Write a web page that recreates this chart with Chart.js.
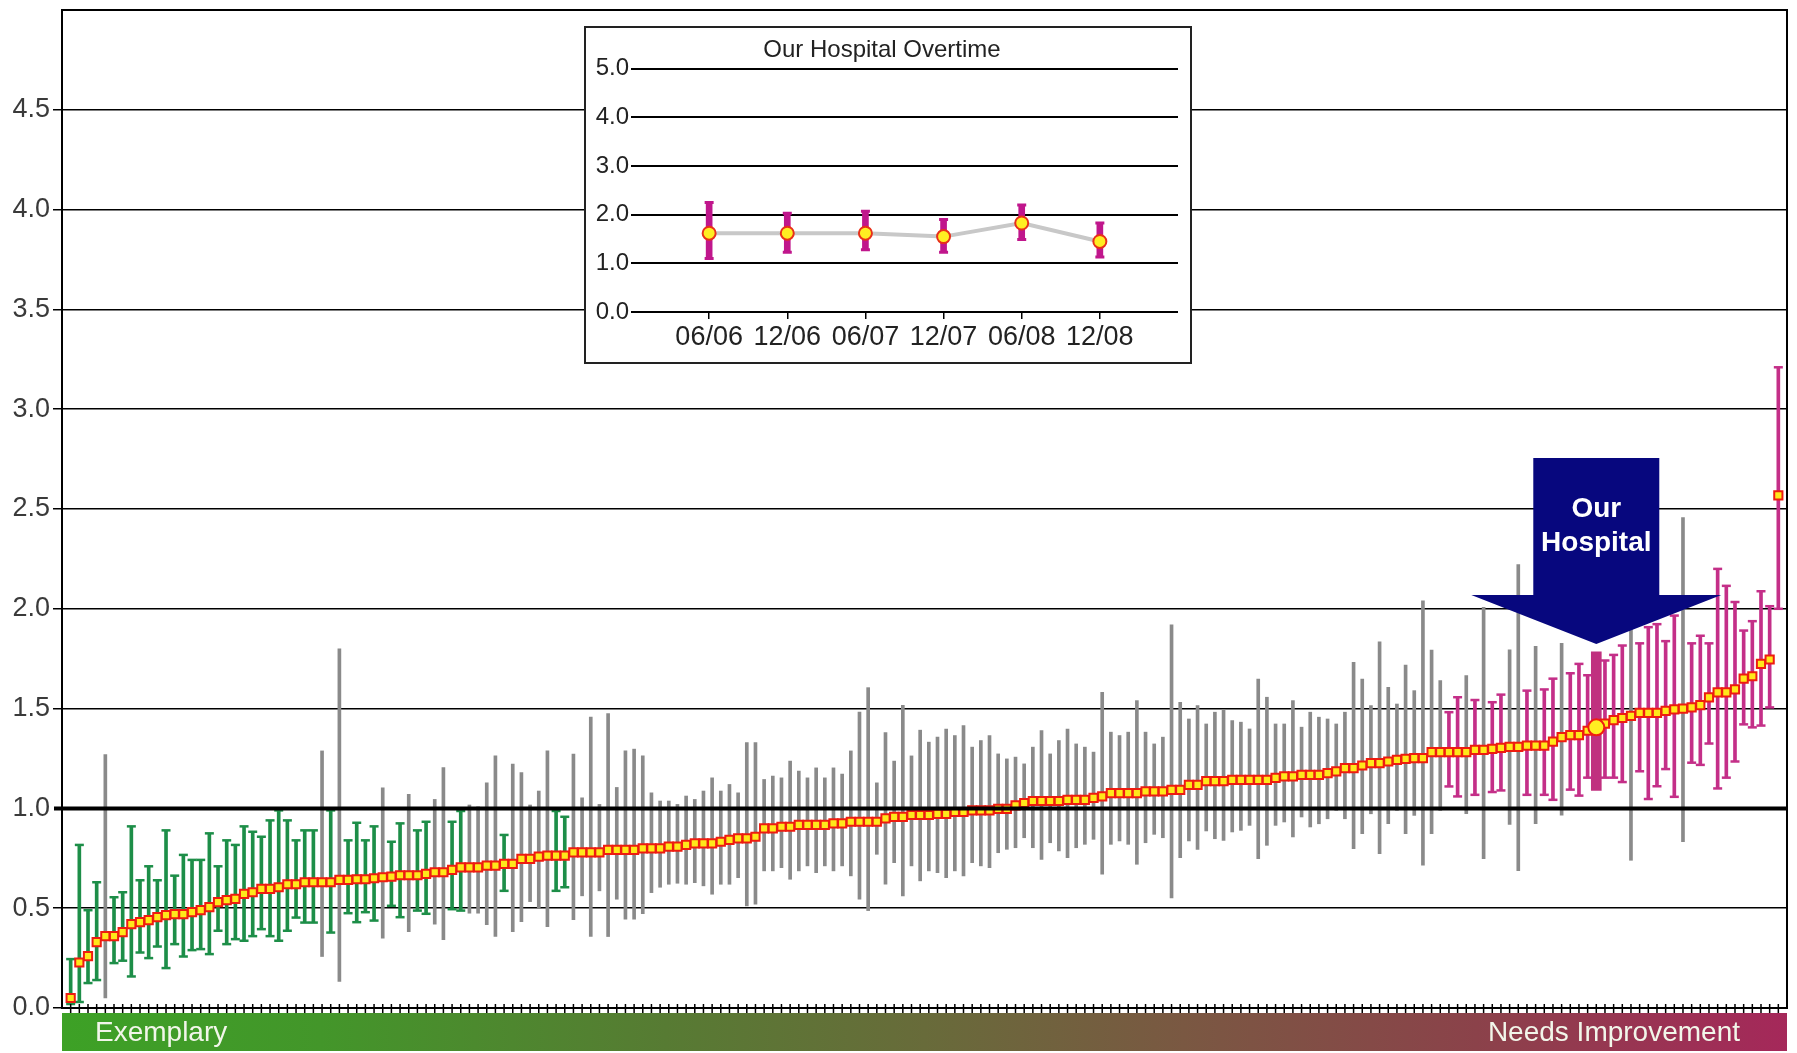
<!DOCTYPE html>
<html lang="en">
<head>
<meta charset="UTF-8">
<title>Hospital Comparison</title>
<style>
    html, body { margin: 0; padding: 0; background: #fff; }
    #wrap { position: relative; width: 1797px; height: 1053px; }
    #mainChart { position: absolute; left: 0; top: 0; }
    #inset {
        position: absolute; left: 584px; top: 26px;
        width: 608px; height: 338px;
        box-sizing: border-box; border: 2px solid #222; background: #fff;
    }
    #inset canvas { display: block; }
</style>
</head>
<body>
<div id="wrap">
    <canvas id="mainChart" width="1797" height="1053"></canvas>
    <div id="inset"><canvas id="insetChart" width="604" height="334"></canvas></div>
</div>

<script src="https://cdn.jsdelivr.net/npm/chart.js"></script>
<script>
    // Hospital rates (sorted), with lower / upper confidence limits
    const rates = [
        0.05, 0.228, 0.26, 0.33, 0.36, 0.36, 0.38, 0.42, 0.43, 0.44,
        0.455, 0.465, 0.47, 0.47, 0.48, 0.49, 0.505, 0.53, 0.54, 0.547,
        0.572, 0.58, 0.597, 0.597, 0.605, 0.62, 0.62, 0.63, 0.63, 0.63,
        0.63, 0.642, 0.642, 0.645, 0.645, 0.65, 0.655, 0.658, 0.665, 0.665,
        0.665, 0.672, 0.68, 0.68, 0.692, 0.705, 0.705, 0.705, 0.713, 0.713,
        0.722, 0.722, 0.747, 0.747, 0.758, 0.763, 0.763, 0.763, 0.78, 0.78,
        0.78, 0.78, 0.792, 0.792, 0.792, 0.792, 0.80, 0.80, 0.80, 0.808,
        0.808, 0.817, 0.825, 0.825, 0.825, 0.833, 0.842, 0.85, 0.85, 0.858,
        0.90, 0.90, 0.908, 0.908, 0.917, 0.917, 0.917, 0.917, 0.925, 0.925,
        0.933, 0.933, 0.933, 0.933, 0.95, 0.958, 0.958, 0.967, 0.967, 0.967,
        0.973, 0.973, 0.982, 0.982, 0.99, 0.99, 0.99, 0.998, 0.998, 1.015,
        1.027, 1.037, 1.037, 1.037, 1.037, 1.043, 1.043, 1.043, 1.053, 1.06,
        1.077, 1.077, 1.077, 1.077, 1.085, 1.085, 1.085, 1.093, 1.093, 1.118,
        1.118, 1.137, 1.137, 1.137, 1.143, 1.143, 1.143, 1.143, 1.143, 1.153,
        1.16, 1.16, 1.168, 1.168, 1.168, 1.177, 1.185, 1.202, 1.202, 1.215,
        1.227, 1.227, 1.235, 1.243, 1.248, 1.252, 1.252, 1.282, 1.282, 1.282,
        1.282, 1.282, 1.293, 1.293, 1.298, 1.303, 1.308, 1.308, 1.314, 1.314,
        1.314, 1.335, 1.357, 1.367, 1.367, 1.389, 1.406, 1.425, 1.442, 1.453,
        1.464, 1.479, 1.479, 1.479, 1.489, 1.496, 1.5, 1.506, 1.517, 1.556,
        1.581, 1.581, 1.596, 1.65, 1.662, 1.724, 1.746, 2.568
    ];
    const lowerCI = [
        0.02, 0.03, 0.125, 0.14, 0.05, 0.225, 0.237, 0.158, 0.278, 0.25,
        0.308, 0.20, 0.32, 0.258, 0.29, 0.295, 0.27, 0.387, 0.32, 0.345,
        0.337, 0.36, 0.395, 0.36, 0.337, 0.387, 0.453, 0.428, 0.428, 0.258,
        0.378, 0.133, 0.475, 0.43, 0.48, 0.438, 0.35, 0.512, 0.455, 0.383,
        0.488, 0.472, 0.42, 0.342, 0.495, 0.488, 0.475, 0.475, 0.417, 0.358,
        0.587, 0.383, 0.433, 0.533, 0.50, 0.408, 0.587, 0.605, 0.442, 0.562,
        0.358, 0.587, 0.358, 0.545, 0.445, 0.445, 0.472, 0.578, 0.605, 0.62,
        0.625, 0.62, 0.628, 0.612, 0.57, 0.62, 0.62, 0.653, 0.512, 0.52,
        0.687, 0.687, 0.703, 0.645, 0.687, 0.712, 0.678, 0.712, 0.687, 0.712,
        0.662, 0.545, 0.488, 0.77, 0.62, 0.728, 0.562, 0.712, 0.637, 0.687,
        0.678, 0.653, 0.687, 0.662, 0.728, 0.712, 0.703, 0.778, 0.795, 0.803,
        0.853, 0.803, 0.745, 0.828, 0.787, 0.753, 0.803, 0.82, 0.845, 0.67,
        0.82, 0.837, 0.82, 0.72, 0.828, 0.87, 0.853, 0.552, 0.753, 0.837,
        0.795, 0.887, 0.848, 0.84, 0.882, 0.89, 0.915, 0.748, 0.815, 0.915,
        0.932, 0.857, 0.957, 0.907, 0.923, 0.948, 0.99, 0.948, 0.798, 0.873,
        0.973, 0.773, 0.923, 0.99, 0.873, 0.965, 0.715, 0.873, 0.99, 1.11,
        1.06, 0.973, 1.068, 0.748, 1.082, 1.09, 0.92, 0.688, 1.068, 0.923,
        1.068, 1.043, 0.966, 1.094, 1.064, 1.154, 1.09, 1.154, 1.154, 1.132,
        0.74, 1.186, 1.047, 1.111, 1.197, 1.058, 0.833, 1.229, 1.218, 1.325,
        1.1, 1.154, 1.235, 1.421, 1.406, 1.415, 1.506, 2.0
    ];
    const upperCI = [
        0.245, 0.817, 0.49, 0.63, 1.27, 0.555, 0.58, 0.91, 0.64, 0.71,
        0.64, 0.89, 0.663, 0.767, 0.742, 0.742, 0.875, 0.71, 0.84, 0.817,
        0.91, 0.883, 0.858, 0.94, 0.99, 0.94, 0.84, 0.89, 0.89, 1.288,
        0.99, 1.80, 0.84, 0.928, 0.84, 0.91, 1.103, 0.833, 0.925, 1.07,
        0.89, 0.933, 1.045, 1.205, 0.933, 0.987, 1.017, 1.008, 1.128, 1.263,
        0.867, 1.222, 1.18, 1.017, 1.087, 1.288, 0.987, 0.958, 1.272, 1.053,
        1.458, 1.02, 1.475, 1.105, 1.288, 1.297, 1.263, 1.078, 1.037, 1.037,
        1.02, 1.062, 1.045, 1.087, 1.153, 1.087, 1.12, 1.078, 1.33, 1.33,
        1.145, 1.162, 1.153, 1.237, 1.187, 1.153, 1.203, 1.153, 1.203, 1.172,
        1.288, 1.483, 1.605, 1.128, 1.38, 1.237, 1.517, 1.263, 1.392, 1.332,
        1.357, 1.398, 1.365, 1.415, 1.307, 1.34, 1.365, 1.273, 1.248, 1.257,
        1.223, 1.307, 1.39, 1.273, 1.34, 1.398, 1.323, 1.307, 1.282, 1.582,
        1.382, 1.365, 1.382, 1.54, 1.382, 1.323, 1.357, 1.92, 1.532, 1.448,
        1.515, 1.423, 1.482, 1.495, 1.44, 1.432, 1.398, 1.648, 1.557, 1.423,
        1.423, 1.54, 1.407, 1.482, 1.457, 1.448, 1.423, 1.482, 1.732, 1.648,
        1.515, 1.835, 1.607, 1.523, 1.718, 1.59, 2.04, 1.793, 1.64, 1.482,
        1.557, 1.665, 1.543, 2.007, 1.532, 1.57, 1.795, 2.222, 1.59, 1.812,
        1.596, 1.65, 1.827, 1.677, 1.724, 1.667, 1.784, 1.741, 1.769, 1.816,
        1.94, 1.827, 1.908, 1.923, 1.838, 1.966, 2.457, 1.827, 1.865, 1.827,
        2.2, 2.115, 2.034, 1.891, 1.938, 2.088, 2.013, 3.21
    ];
    const OUR_HOSPITAL = 177;   // position of our hospital in the ranking

    // Our hospital over time (inset)
    const periods = ['06/06', '12/06', '06/07', '12/07', '06/08', '12/08'];
    const ourRates = [1.62, 1.62, 1.62, 1.55, 1.83, 1.45];
    const ourLower = [1.10, 1.23, 1.28, 1.23, 1.49, 1.13];
    const ourUpper = [2.25, 2.03, 2.07, 1.90, 2.20, 1.83];

    const FONT = "'Liberation Sans', Arial, sans-serif";
    const GREEN = '#1d8e48';
    const GRAY = '#8a8a8a';
    const MAGENTA = '#c42f88';
    const NAVY = '#07077e';

    const hospitalX = rates.map((r, i) => i + 1);
    const ciColor = (lo, hi) => hi < 1 ? GREEN : (lo > 1 ? MAGENTA : GRAY);

    const others = hospitalX.filter(x => x !== OUR_HOSPITAL);
    const ciBars = others.map(x => ({ x, y: [lowerCI[x - 1], upperCI[x - 1]] }));
    const capsOf = color => others
        .filter(x => ciColor(lowerCI[x - 1], upperCI[x - 1]) === color)
        .flatMap(x => [{ x, y: lowerCI[x - 1] }, { x, y: upperCI[x - 1] }]);
    const o = OUR_HOSPITAL - 1;

    // extra drawing: reference line, frame, tick marks, arrow, colour strip
    const decorPlugin = {
        id: 'decor',
        afterDatasetsDraw(chart) {
            const { ctx, chartArea: a, scales: { x, y } } = chart;
            ctx.save();
            // benchmark line at 1.0
            ctx.strokeStyle = '#000';
            ctx.lineWidth = 4;
            ctx.beginPath();
            ctx.moveTo(a.left - 8, y.getPixelForValue(1));
            ctx.lineTo(a.right, y.getPixelForValue(1));
            ctx.stroke();
            // frame
            ctx.lineWidth = 2;
            ctx.strokeRect(a.left, a.top, a.right - a.left, a.bottom - a.top);
            // hospital tick marks
            ctx.lineWidth = 1.5;
            ctx.beginPath();
            hospitalX.forEach(v => {
                const px = x.getPixelForValue(v);
                ctx.moveTo(px, a.bottom - 4);
                ctx.lineTo(px, a.bottom + 5);
            });
            ctx.stroke();

            // "Our Hospital" block arrow
            const tx = x.getPixelForValue(OUR_HOSPITAL);
            const ty = y.getPixelForValue(upperCI[o]) - 8;
            ctx.fillStyle = NAVY;
            ctx.beginPath();
            ctx.moveTo(tx, ty);
            ctx.lineTo(tx + 125, ty - 49);
            ctx.lineTo(tx + 63, ty - 49);
            ctx.lineTo(tx + 63, ty - 186);
            ctx.lineTo(tx - 63, ty - 186);
            ctx.lineTo(tx - 63, ty - 49);
            ctx.lineTo(tx - 125, ty - 49);
            ctx.closePath();
            ctx.fill();
            ctx.fillStyle = '#fff';
            ctx.font = 'bold 28px ' + FONT;
            ctx.textAlign = 'center';
            ctx.textBaseline = 'middle';
            ctx.fillText('Our', tx, ty - 135);
            ctx.fillText('Hospital', tx, ty - 101);
            ctx.restore();
        },
        afterDraw(chart) {
            const { ctx, chartArea: a } = chart;
            const top = a.bottom + 5, h = 38;
            const g = ctx.createLinearGradient(a.left, 0, a.right, 0);
            g.addColorStop(0, '#3da126');
            g.addColorStop(0.15, '#43962a');
            g.addColorStop(0.35, '#577b33');
            g.addColorStop(0.5, '#686b3a');
            g.addColorStop(0.65, '#7a5842');
            g.addColorStop(0.82, '#8b424a');
            g.addColorStop(1, '#a5285a');
            ctx.save();
            ctx.fillStyle = g;
            ctx.fillRect(a.left, top, a.right - a.left, h);
            ctx.fillStyle = '#f2f6ea';
            ctx.font = '28px ' + FONT;
            ctx.textBaseline = 'middle';
            ctx.textAlign = 'left';
            ctx.fillText('Exemplary', a.left + 33, top + h / 2 + 1);
            ctx.textAlign = 'right';
            ctx.fillText('Needs Improvement', a.right - 47, top + h / 2 + 1);
            ctx.restore();
        }
    };

    new Chart(document.getElementById('mainChart'), {
        type: 'bar',
        data: {
            datasets: [
                {
                    type: 'line', showLine: false, order: 0,
                    data: [{ x: OUR_HOSPITAL, y: rates[o] }],
                    pointStyle: 'circle', pointRadius: 8,
                    pointBackgroundColor: '#ffee22', pointBorderColor: '#f01c10', pointBorderWidth: 2
                },
                {
                    type: 'line', showLine: false, order: 1,
                    data: others.map(x => ({ x, y: rates[x - 1] })),
                    pointStyle: 'rect', pointRadius: 5.8,
                    pointBackgroundColor: '#ffe81a', pointBorderColor: '#ee1c10', pointBorderWidth: 2
                },
                {
                    type: 'line', showLine: false, order: 2, data: capsOf(GREEN),
                    pointStyle: 'line', pointRadius: 4.5, pointBorderColor: GREEN, pointBorderWidth: 2.5
                },
                {
                    type: 'line', showLine: false, order: 2, data: capsOf(MAGENTA),
                    pointStyle: 'line', pointRadius: 4.5, pointBorderColor: MAGENTA, pointBorderWidth: 2.5
                },
                {
                    order: 3, grouped: false, barThickness: 10,
                    data: [{ x: OUR_HOSPITAL, y: [lowerCI[o], upperCI[o]] }],
                    backgroundColor: '#c0307f'
                },
                {
                    order: 4, grouped: false, barThickness: 3,
                    data: ciBars,
                    backgroundColor: c => c.raw ? ciColor(c.raw.y[0], c.raw.y[1]) : GRAY
                }
            ]
        },
        options: {
            responsive: false,
            animation: false,
            layout: { padding: { top: 9, right: 3, left: 0, bottom: 0 } },
            plugins: { legend: { display: false }, tooltip: { enabled: false } },
            scales: {
                x: {
                    type: 'linear', min: 0, max: hospitalX.length + 1, offset: false,
                    afterFit: s => { s.height = 45; },
                    ticks: { display: false },
                    grid: { display: false, offset: false },
                    border: { display: false }
                },
                y: {
                    min: 0, max: 5,
                    afterFit: s => { s.width = 62; s.paddingTop = 0; },
                    ticks: {
                        stepSize: 0.5, padding: 3, color: '#3a3a3a',
                        font: { family: FONT, size: 27 },
                        callback: v => v >= 5 ? '' : v.toFixed(1)
                    },
                    grid: {
                        color: c => (c.tick && (c.tick.value === 1 || c.tick.value === 5)) ? 'rgba(0,0,0,0)' : '#000',
                        lineWidth: 1.5, tickLength: 9
                    },
                    border: { color: '#000', width: 2 }
                }
            }
        },
        plugins: [decorPlugin]
    });

    // Inset: our hospital over time
    const insetX = periods.map((p, i) => i);
    new Chart(document.getElementById('insetChart'), {
        type: 'bar',
        data: {
            datasets: [
                {
                    type: 'line', showLine: false, order: 0,
                    data: insetX.map(i => ({ x: i, y: ourRates[i] })),
                    pointStyle: 'circle', pointRadius: 6.5,
                    pointBackgroundColor: '#ffee22', pointBorderColor: '#e8301a', pointBorderWidth: 2
                },
                {
                    type: 'line', showLine: false, order: 1,
                    data: insetX.flatMap(i => [{ x: i, y: ourLower[i] }, { x: i, y: ourUpper[i] }]),
                    pointStyle: 'line', pointRadius: 4.5, pointBorderColor: '#c0168c', pointBorderWidth: 3
                },
                {
                    order: 2, grouped: false, barThickness: 6,
                    data: insetX.map(i => ({ x: i, y: [ourLower[i], ourUpper[i]] })),
                    backgroundColor: '#c0168c'
                },
                {
                    type: 'line', order: 3,
                    data: insetX.map(i => ({ x: i, y: ourRates[i] })),
                    borderColor: '#c8c8c8', borderWidth: 4, pointRadius: 0, tension: 0
                }
            ]
        },
        options: {
            responsive: false,
            animation: false,
            layout: { padding: { top: 0, right: 12, left: 0, bottom: 0 } },
            plugins: {
                legend: { display: false },
                tooltip: { enabled: false },
                title: {
                    display: true, text: 'Our Hospital Overtime', color: '#222',
                    font: { family: FONT, size: 24, weight: 'normal' },
                    padding: { top: 8, bottom: 4 }
                }
            },
            scales: {
                x: {
                    type: 'linear', min: -1, max: periods.length, offset: false,
                    afterBuildTicks: s => { s.ticks = insetX.map(v => ({ value: v })); },
                    afterFit: s => { s.height = 50; },
                    ticks: {
                        autoSkip: false, maxRotation: 0, padding: 2, color: '#222',
                        font: { family: FONT, size: 27 },
                        callback: v => periods[v] ?? ''
                    },
                    grid: { drawOnChartArea: false, offset: false, color: '#000', lineWidth: 1.5, tickLength: 7 },
                    border: { display: false }
                },
                y: {
                    min: 0, max: 5,
                    afterFit: s => { s.width = 45; },
                    ticks: {
                        stepSize: 1, padding: 2, color: '#222',
                        font: { family: FONT, size: 24 },
                        callback: v => v.toFixed(1)
                    },
                    grid: { color: '#000', lineWidth: 2, drawTicks: false },
                    border: { display: false }
                }
            }
        }
    });
</script>
</body>
</html>
